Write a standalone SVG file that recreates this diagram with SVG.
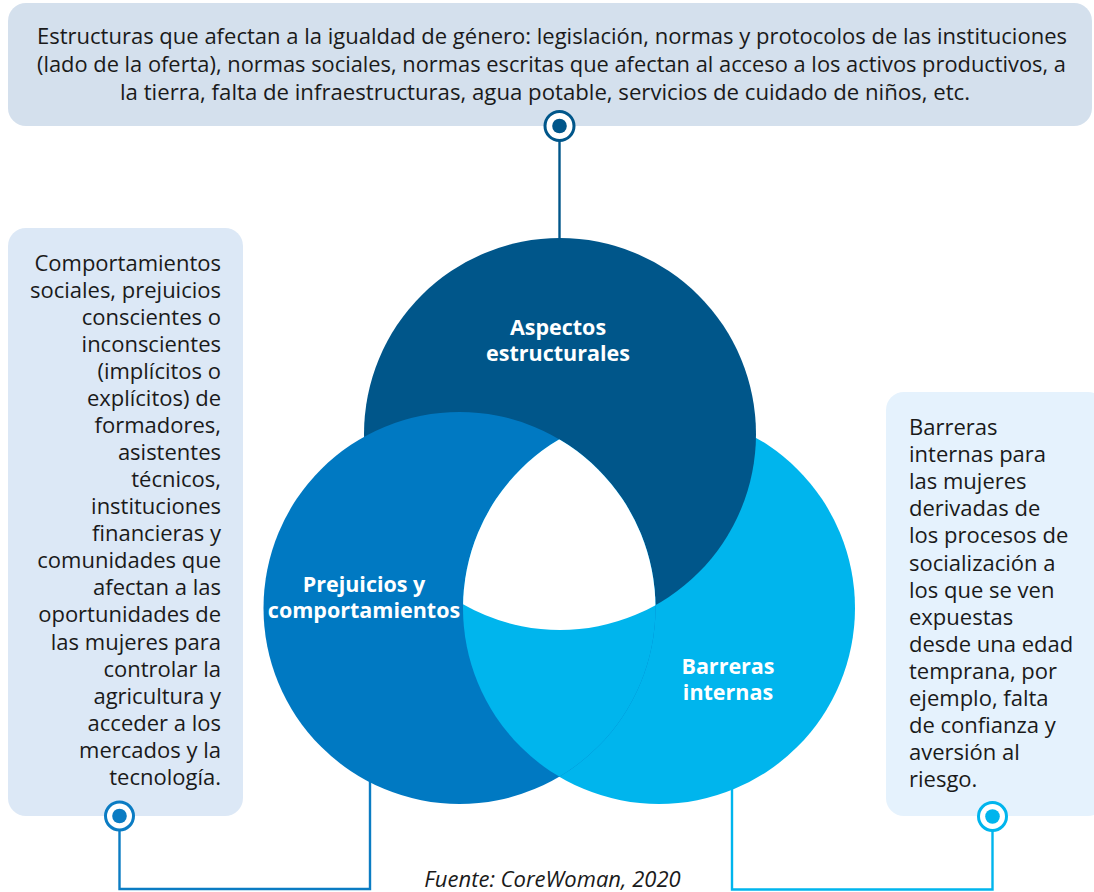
<svg xmlns="http://www.w3.org/2000/svg" width="1094" height="892" viewBox="0 0 1094 892">
<style>
.body{font-family:"Open Sans","Liberation Sans",sans-serif;font-size:22px;fill:#1a1a1a}
.top{font-family:"Open Sans","Liberation Sans",sans-serif;font-size:21px;fill:#1a1a1a}
.lbl{font-family:"Open Sans","Liberation Sans",sans-serif;font-size:21.5px;font-weight:bold;fill:#ffffff;text-anchor:middle}
.src{font-family:"Open Sans","Liberation Sans",sans-serif;font-size:22px;font-style:italic;fill:#1a1a1a;text-anchor:middle}
.ring{fill:#ffffff;stroke-width:3}
.wire{fill:none;stroke-width:2.4}
</style>
<defs>
<clipPath id="cMed"><circle cx="459.5" cy="608" r="196"/></clipPath>
<clipPath id="cLight"><circle cx="659" cy="608" r="196"/></clipPath>
</defs>

<g id="box-top">
<rect x="8" y="3" width="1084" height="123" rx="18" fill="#d4e0ed"/>
<text class="top" x="37" y="44" textLength="1030" lengthAdjust="spacingAndGlyphs">Estructuras que afectan a la igualdad de género: legislación, normas y protocolos de las instituciones</text>
<text class="top" x="37" y="72" textLength="1029" lengthAdjust="spacingAndGlyphs">(lado de la oferta), normas sociales, normas escritas que afectan al acceso a los activos productivos, a</text>
<text class="top" x="120" y="100" textLength="850" lengthAdjust="spacingAndGlyphs">la tierra, falta de infraestructuras, agua potable, servicios de cuidado de niños, etc.</text>
</g>

<g id="box-left">
<rect x="8" y="228" width="235" height="588" rx="18" fill="#dce8f6"/>
<g class="body" text-anchor="end">
<text x="221" y="270.5">Comportamientos</text>
<text x="221" y="297.6">sociales, prejuicios</text>
<text x="221" y="324.6">conscientes o</text>
<text x="221" y="351.7">inconscientes</text>
<text x="221" y="378.8">(implícitos o</text>
<text x="221" y="405.8">explícitos) de</text>
<text x="221" y="432.9">formadores,</text>
<text x="221" y="460">asistentes</text>
<text x="221" y="487.1">técnicos,</text>
<text x="221" y="514.1">instituciones</text>
<text x="221" y="541.2">financieras y</text>
<text x="221" y="568.3">comunidades que</text>
<text x="221" y="595.3">afectan a las</text>
<text x="221" y="622.4">oportunidades de</text>
<text x="221" y="649.5">las mujeres para</text>
<text x="221" y="676.5">controlar la</text>
<text x="221" y="703.6">agricultura y</text>
<text x="221" y="730.7">acceder a los</text>
<text x="221" y="757.8">mercados y la</text>
<text x="221" y="784.8">tecnología.</text>
</g>
</g>

<g id="box-right">
<rect x="886" y="392" width="220" height="424" rx="18" fill="#e5f2fd"/>
<g class="body">
<text x="909" y="435">Barreras</text>
<text x="909" y="462.1">internas para</text>
<text x="909" y="489.2">las mujeres</text>
<text x="909" y="516.3">derivadas de</text>
<text x="909" y="543.4">los procesos de</text>
<text x="909" y="570.5">socialización a</text>
<text x="909" y="597.6">los que se ven</text>
<text x="909" y="624.7">expuestas</text>
<text x="909" y="651.8">desde una edad</text>
<text x="909" y="678.9">temprana, por</text>
<text x="909" y="706">ejemplo, falta</text>
<text x="909" y="733.1">de confianza y</text>
<text x="909" y="760.2">aversión al</text>
<text x="909" y="787.3">riesgo.</text>
</g>
</g>

<g id="connectors">
<line class="wire" x1="559.5" y1="140" x2="559.5" y2="242" stroke="#00568a"/>
<circle class="ring" cx="559.5" cy="126" r="14.5" stroke="#00568a"/>
<circle cx="559.5" cy="126" r="7.3" fill="#00568a"/>
<polyline class="wire" points="119.5,830 119.5,889 370,889 370,780" stroke="#0b7cc3"/>
<circle class="ring" cx="119.5" cy="816" r="14" stroke="#0b7cc3"/>
<circle cx="119.5" cy="816" r="7.3" fill="#0b7cc3"/>
<polyline class="wire" points="992.5,830 992.5,889.5 732,889.5 732,786" stroke="#00b5ed"/>
<circle class="ring" cx="992.5" cy="816.5" r="14" stroke="#00b5ed"/>
<circle cx="992.5" cy="816.5" r="7.3" fill="#00b5ed"/>
</g>

<g id="barreras">
<circle cx="659" cy="608" r="196" fill="#00b5ed"/>
</g>
<g id="aspectos">
<circle cx="560" cy="434" r="196" fill="#00568a"/>
<text class="lbl" x="558" y="335">Aspectos<tspan x="558" dy="26">estructurales</tspan></text>
</g>
<g id="prejuicios">
<circle cx="459.5" cy="608" r="196" fill="#0079c2"/>
</g>
<g id="overlap" clip-path="url(#cMed)">
<circle cx="659" cy="608" r="196" fill="#00b5ed"/>
<circle cx="560" cy="434" r="196" fill="#ffffff" clip-path="url(#cLight)"/>
</g>
<g id="labels-lower">
<text class="lbl" x="364" y="592">Prejuicios y<tspan x="364" dy="26">comportamientos</tspan></text>
<text class="lbl" x="728" y="674">Barreras<tspan x="728" dy="26">internas</tspan></text>
</g>

<text class="src" x="552.5" y="887">Fuente: CoreWoman, 2020</text>
</svg>
